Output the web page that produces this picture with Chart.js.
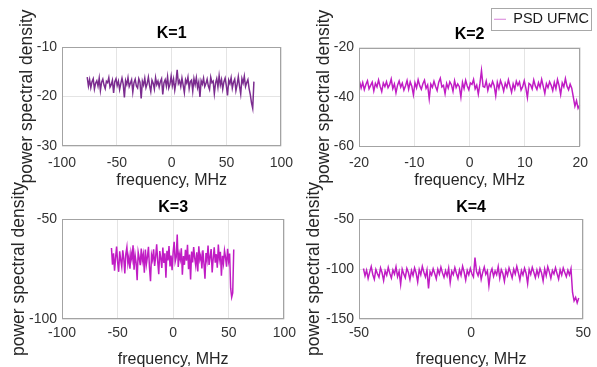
<!DOCTYPE html>
<html>
<head>
<meta charset="utf-8">
<script src="https://cdn.jsdelivr.net/npm/chart.js@4"></script>
<style>
  body { margin: 0; background: #fff; width: 597px; height: 367px; overflow: hidden; position: relative; }
  canvas { position: absolute; }
</style>
</head>
<body>
<canvas id="k1" width="302" height="195" style="left:0;top:0"></canvas>
<canvas id="k2" width="300" height="195" style="left:297px;top:0"></canvas>
<canvas id="k3" width="302" height="202" style="left:0;top:165px"></canvas>
<canvas id="k4" width="300" height="202" style="left:297px;top:165px"></canvas>
<script>
// PSD values (dB), one array per subplot
const psdK1 = [
  -16.1,-17.9,-16.6,-18.2,-17.0,-16.4,-18.5,-17.3,-16.8,-17.9,
  -16.3,-18.8,-17.1,-16.5,-17.7,-18.4,-16.9,-17.2,-16.2,-18.1,
  -17.6,-16.7,-19.3,-17.0,-16.4,-17.8,-16.9,-18.6,-17.4,-16.3,
  -17.5,-20.2,-16.8,-17.6,-16.2,-18.0,-17.3,-16.6,-19.1,-17.2,
  -16.5,-17.9,-18.3,-16.4,-17.1,-20.4,-16.9,-17.7,-16.3,-18.2,
  -17.4,-16.1,-17.8,-19.0,-16.7,-17.3,-18.5,-16.2,-17.6,-16.9,
  -18.1,-17.0,-16.4,-19.6,-17.2,-16.6,-17.9,-16.0,-18.3,-17.5,
  -15.9,-17.8,-16.5,-18.7,-17.1,-14.6,-17.4,-16.8,-18.0,-16.3,
  -17.7,-19.2,-16.6,-17.3,-16.1,-18.4,-17.0,-16.7,-18.9,-16.4,
  -17.6,-16.2,-18.2,-17.1,-20.1,-16.8,-17.5,-16.3,-18.0,-17.4,
  -16.5,-17.9,-18.6,-16.1,-17.2,-16.9,-19.4,-17.3,-16.4,-18.1,
  -15.8,-17.7,-16.6,-18.5,-17.0,-16.3,-17.8,-19.8,-16.7,-17.4,
  -16.2,-18.3,-17.1,-16.5,-18.8,-17.6,-16.0,-17.9,-19.5,-16.4,
  -17.3,-15.9,-18.0,-17.2,-16.6,-18.4,-19.6,-21.3,-22.4,-17.0
];
const psdK2 = [
  -33.8,-36.5,-34.2,-37.1,-35.0,-33.5,-36.8,-35.4,-34.1,-37.6,
  -34.6,-36.0,-33.2,-35.8,-37.9,-34.4,-35.9,-33.9,-36.3,-35.1,
  -32.8,-36.7,-34.8,-38.4,-35.3,-33.6,-36.1,-34.5,-37.3,-35.6,
  -33.4,-36.9,-34.0,-35.7,-39.2,-34.3,-36.4,-33.1,-35.5,-37.0,
  -34.7,-33.3,-36.6,-35.2,-40.8,-34.9,-36.2,-33.7,-35.8,-37.5,
  -34.1,-32.5,-36.0,-35.4,-38.7,-34.6,-36.5,-33.9,-35.1,-37.8,
  -33.5,-36.3,-34.8,-35.9,-40.1,-34.2,-36.7,-33.3,-35.6,-37.2,
  -34.4,-35.0,-33.0,-36.8,-35.3,-38.9,-34.7,-29.4,-35.8,-36.1,
  -33.6,-37.4,-34.9,-36.0,-33.8,-35.5,-39.6,-34.1,-36.6,-33.4,
  -35.2,-37.7,-34.5,-36.2,-33.1,-35.7,-38.2,-34.8,-36.9,-33.7,
  -35.4,-34.0,-37.3,-35.9,-33.5,-36.4,-40.3,-34.6,-35.1,-36.8,
  -33.2,-35.6,-37.0,-34.3,-36.1,-32.9,-35.8,-38.6,-34.7,-36.3,
  -33.9,-35.3,-37.5,-34.2,-36.7,-33.0,-35.5,-39.1,-34.4,-36.0,
  -32.6,-35.7,-37.2,-34.9,-36.5,-40.2,-43.8,-41.6,-44.7,-43.4
];
const psdK3 = [
  -64.5,-72.8,-67.1,-75.9,-69.3,-63.8,-71.6,-76.4,-66.2,-70.5,
  -73.9,-65.7,-69.8,-77.2,-67.4,-64.1,-72.3,-68.6,-74.8,-66.9,
  -70.1,-63.2,-75.3,-68.0,-71.9,-80.6,-66.5,-69.4,-73.1,-64.8,
  -70.9,-67.7,-76.8,-65.3,-72.6,-69.0,-63.9,-74.2,-81.1,-67.9,
  -70.4,-65.1,-73.5,-68.8,-62.6,-71.2,-77.6,-66.0,-69.6,-74.5,
  -64.3,-72.0,-67.2,-79.3,-65.9,-70.7,-63.5,-73.7,-68.3,-75.6,
  -66.7,-61.4,-71.4,-69.1,-57.8,-74.0,-67.5,-70.2,-64.6,-77.9,
  -68.5,-72.9,-65.4,-70.8,-62.9,-75.1,-67.8,-80.2,-66.3,-71.7,
  -64.0,-69.5,-73.3,-66.6,-76.2,-63.6,-70.3,-68.1,-74.7,-65.6,
  -72.4,-79.8,-67.0,-70.6,-63.3,-73.0,-68.9,-65.0,-76.7,-69.9,
  -64.2,-71.8,-67.6,-74.4,-62.8,-70.0,-66.4,-78.4,-68.4,-72.2,
  -65.8,-69.2,-73.8,-64.9,-70.9,-67.3,-84.6,-89.1,-87.0,-65.2
];
const psdK4 = [
  -99.5,-106.8,-101.2,-109.4,-103.1,-97.6,-105.5,-110.2,-100.4,-104.7,
  -108.1,-99.0,-103.8,-111.5,-101.9,-106.2,-98.3,-104.4,-109.0,-100.9,
  -105.0,-97.9,-107.6,-102.5,-115.3,-100.1,-104.9,-108.7,-99.3,-103.5,
  -110.6,-101.5,-106.5,-98.8,-104.1,-112.9,-100.6,-105.8,-97.4,-103.2,
  -107.9,-101.0,-119.4,-102.8,-106.0,-99.7,-104.6,-109.8,-100.3,-105.2,
  -98.1,-103.9,-108.4,-101.7,-106.9,-99.1,-113.6,-102.2,-105.6,-98.6,
  -104.3,-109.5,-100.8,-106.3,-97.2,-103.0,-111.0,-101.4,-105.9,-99.4,
  -104.8,-108.0,-88.6,-102.6,-106.6,-100.0,-110.4,-103.4,-98.0,-105.3,
  -101.8,-116.8,-104.0,-99.8,-107.3,-102.0,-105.7,-97.7,-109.2,-100.7,
  -104.5,-112.2,-101.3,-106.4,-98.9,-103.6,-108.9,-100.2,-105.1,-97.5,
  -103.7,-110.9,-101.6,-106.1,-99.2,-104.2,-114.7,-100.5,-105.4,-98.4,
  -103.3,-108.6,-101.1,-107.0,-99.6,-104.0,-111.8,-100.0,-106.7,-97.8,
  -102.9,-109.3,-101.5,-105.0,-98.7,-104.6,-110.1,-100.8,-106.0,-99.0,
  -103.5,-107.7,-101.2,-105.9,-99.8,-123.5,-131.8,-128.4,-133.9,-129.0
];

// frequency span (MHz) covered by each PSD, first bin to last bin
const spanK1 = [-77, 75];
const spanK2 = [-19.9, 19.9];
const spanK3 = [-55.5, 54.5];
const spanK4 = [-48, 48];

// axis limits and tick steps: [min, max, step]
const xAxisK1 = [-100, 100, 50], yAxisK1 = [-30, -10, 10];
const xAxisK2 = [-20, 20, 10],   yAxisK2 = [-60, -20, 20];
const xAxisK3 = [-100, 100, 50], yAxisK3 = [-100, -50, 50];
const xAxisK4 = [-50, 50, 50],   yAxisK4 = [-150, -50, 50];

const titles = ['K=1', 'K=2', 'K=3', 'K=4'];
const seriesName = 'PSD UFMC';

Chart.defaults.font.family = "'Liberation Sans', Arial, Helvetica, sans-serif";
Chart.defaults.color = '#262626';

// evenly spaced frequency bins like linspace in the original script
const bins = (span, n) => Array.from({length: n}, (_, i) => span[0] + (span[1] - span[0]) * i / (n - 1));

// box around the plot area (matlab "box on")
const axesBox = {
    id: 'axesBox',
    afterDraw(chart) {
        const {ctx, chartArea: a} = chart;
        ctx.save();
        ctx.strokeStyle = '#a3a3a3';
        ctx.lineWidth = 1;
        ctx.strokeRect(Math.round(a.left) + 0.5, Math.round(a.top) + 0.5, Math.round(a.width) - 1, Math.round(a.height) - 1);
        ctx.restore();
    }
};

// border round the legend entry
const legendFrame = {
    id: 'legendFrame',
    afterDraw(chart) {
        const lg = chart.legend;
        if (!lg || !lg.options.display || !lg.legendHitBoxes || !lg.legendHitBoxes.length) return;
        const h = lg.legendHitBoxes[0];
        const ctx = chart.ctx;
        ctx.save();
        ctx.strokeStyle = '#a8a8a8';
        ctx.lineWidth = 1;
        ctx.strokeRect(Math.round(h.left - 3) + 0.5, Math.round(h.top - 4) + 0.5, Math.round(h.width + 5), Math.round(h.height + 7));
        ctx.restore();
    }
};

const makePanel = (id, p) => {
    const pts = p.psd.map((v, i) => ({x: p.freq[i], y: v}));
    const scales = {
        x: {
            type: 'linear',
            min: p.xAxis[0], max: p.xAxis[1],
            ticks: {stepSize: p.xAxis[2], maxRotation: 0, padding: p.xTickPad, font: {size: 14}, color: '#333'},
            grid: {color: '#e4e4e4', drawTicks: false},
            border: {display: false},
            title: {display: true, text: 'frequency, MHz', font: {size: 16}, color: '#262626', padding: {top: 0, bottom: p.xTitlePad}},
            afterFit: s => { s.height = p.xAxisHeight; }
        },
        y: {
            min: p.yAxis[0], max: p.yAxis[1],
            ticks: {stepSize: p.yAxis[2], padding: 5, font: {size: 14}, color: '#333'},
            grid: {color: '#e4e4e4', drawTicks: false},
            border: {display: false},
            title: {display: true, text: 'power spectral density', font: {size: 17.5}, color: '#262626', padding: {top: p.yTitlePad, bottom: 0}},
            afterFit: s => { s.width = 62; }
        }
    };
    if (p.rightGap) {
        scales.y2 = {
            position: 'right',
            ticks: {display: false},
            grid: {display: false, drawTicks: false},
            border: {display: false},
            afterFit: s => { s.width = p.rightGap; }
        };
    }
    return new Chart(document.getElementById(id), {
        type: 'line',
        data: {
            datasets: [{
                label: seriesName,
                data: pts,
                borderColor: p.color,
                borderWidth: 1.5,
                pointRadius: 0,
                tension: 0,
                fill: false
            }]
        },
        options: {
            responsive: false,
            animation: false,
            events: [],
            layout: {padding: p.pad},
            scales,
            plugins: {
                title: {
                    display: true,
                    text: p.title,
                    fullSize: false,
                    color: '#000',
                    font: {size: 16, weight: 'bold'},
                    padding: p.titlePad
                },
                legend: p.legend ? {
                    display: true,
                    position: 'top',
                    align: 'end',
                    weight: 3000,
                    labels: {
                        usePointStyle: true,
                        pointStyle: 'line',
                        pointStyleWidth: 12,
                        padding: 8,
                        font: {size: 14.5},
                        color: '#1a1a1a',
                        generateLabels: chart => Chart.defaults.plugins.legend.labels.generateLabels(chart)
                            .map(l => Object.assign(l, {strokeStyle: '#d77fd9', lineWidth: 1.2}))
                    }
                } : {display: false},
                tooltip: {enabled: false}
            }
        },
        plugins: p.legend ? [axesBox, legendFrame] : [axesBox]
    });
};

makePanel('k1', {
    psd: psdK1, freq: bins(spanK1, psdK1.length), xAxis: xAxisK1, yAxis: yAxisK1,
    title: titles[0], color: '#7b2c8f',
    pad: {left: 0, right: 14, top: 0, bottom: 0},
    titlePad: {top: 24.4, bottom: 3.4},
    xAxisHeight: 49, xTickPad: 9, xTitlePad: 5, yTitlePad: 17
});
makePanel('k2', {
    psd: psdK2, freq: bins(spanK2, psdK2.length), xAxis: xAxisK2, yAxis: yAxisK2,
    title: titles[1], color: '#c01cc4', legend: true, rightGap: 12,
    pad: {left: 0, right: 0, top: 4, bottom: 0},
    titlePad: {top: -11.6, bottom: 3.4},
    xAxisHeight: 49, xTickPad: 9, xTitlePad: 5, yTitlePad: 17
});
makePanel('k3', {
    psd: psdK3, freq: bins(spanK3, psdK3.length), xAxis: xAxisK3, yAxis: yAxisK3,
    title: titles[2], color: '#c01cc4',
    pad: {left: 0, right: 14, top: 0, bottom: 0},
    titlePad: {top: 33.4, bottom: 1.4},
    xAxisHeight: 48, xTickPad: 6, xTitlePad: -2.6, yTitlePad: 8.5
});
makePanel('k4', {
    psd: psdK4, freq: bins(spanK4, psdK4.length), xAxis: xAxisK4, yAxis: yAxisK4,
    title: titles[3], color: '#c01cc4',
    pad: {left: 0, right: 12, top: 0, bottom: 0},
    titlePad: {top: 33.4, bottom: 1.4},
    xAxisHeight: 48, xTickPad: 6, xTitlePad: -2.6, yTitlePad: 7
});
</script>
</body>
</html>
